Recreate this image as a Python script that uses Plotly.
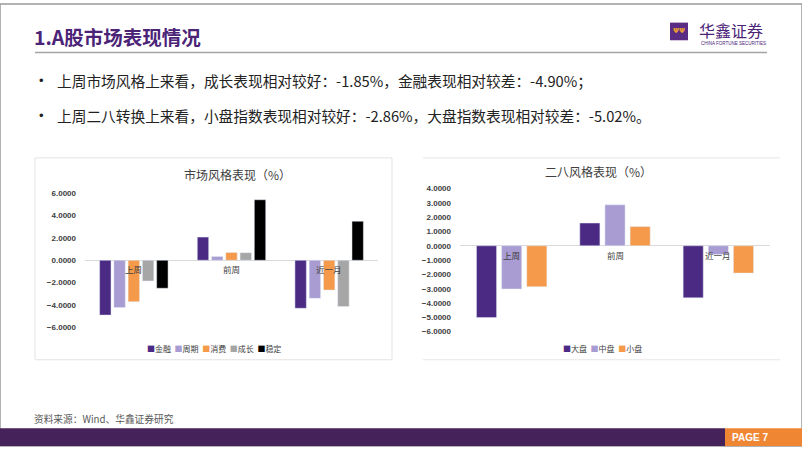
import plotly.graph_objects as go

W, H = 802, 451

# ---------------- data ----------------
categories = ["上周", "前周", "近一月"]

style_names = ["金融", "周期", "消费", "成长", "稳定"]
style_jinrong = [-4.90, 2.07, -4.29]
style_zhouqi = [-4.23, 0.33, -3.40]
style_xiaofei = [-3.70, 0.70, -2.66]
style_chengzhang = [-1.85, 0.68, -4.14]
style_wending = [-2.50, 5.41, 3.49]
style_values = [style_jinrong, style_zhouqi, style_xiaofei, style_chengzhang, style_wending]
style_colors = ["#4B2A84", "#A89CD2", "#F59A4A", "#A6A6A6", "#000000"]

size_names = ["大盘", "中盘", "小盘"]
size_dapan = [-5.02, 1.59, -3.64]
size_zhongpan = [-3.02, 2.86, -0.61]
size_xiaopan = [-2.86, 1.34, -1.91]
size_values = [size_dapan, size_zhongpan, size_xiaopan]
size_colors = ["#4B2A84", "#A89CD2", "#F59A4A"]

bullet_lines = [
    "上周市场风格上来看，成长表现相对较好：-1.85%，金融表现相对较差：-4.90%；",
    "上周二八转换上来看，小盘指数表现相对较好：-2.86%，大盘指数表现相对较差：-5.02%。",
]

CJK = "Noto Sans CJK SC"


def px_x(x):
    return x / W


def px_y(y):
    return 1 - y / H


fig = go.Figure()

for name, vals, col in zip(style_names, style_values, style_colors):
    fig.add_trace(go.Bar(x=categories, y=vals, name=name, marker_color=col,
                         xaxis="x", yaxis="y", showlegend=False))
for name, vals, col in zip(size_names, size_values, size_colors):
    fig.add_trace(go.Bar(x=categories, y=vals, name=name, marker_color=col,
                         xaxis="x2", yaxis="y2", showlegend=False))

tickfont = dict(family="Liberation Sans", size=8, color="#404040", weight="bold")
axis_common = dict(showgrid=False, showline=False, ticks="", tickformat=".4f",
                   zeroline=True, zerolinecolor="#D9D9D9", zerolinewidth=1,
                   tickfont=tickfont, ticklabelstandoff=8)

fig.update_layout(
    width=W, height=H, margin=dict(l=0, r=0, t=0, b=0),
    paper_bgcolor="white", plot_bgcolor="rgba(0,0,0,0)",
    barmode="group", bargap=0.27, bargroupgap=0.2,
    xaxis=dict(domain=[px_x(85), px_x(378)], showticklabels=False, showgrid=False,
               showline=False, zeroline=False, anchor="y"),
    yaxis=dict(domain=[px_y(330), px_y(193)], range=[-6, 6], dtick=2, anchor="x",
               **axis_common),
    xaxis2=dict(domain=[px_x(460), px_x(770)], showticklabels=False, showgrid=False,
                showline=False, zeroline=False, anchor="y2"),
    yaxis2=dict(domain=[px_y(334.3), px_y(188.3)], range=[-6, 4], dtick=1, anchor="x2",
                **axis_common),
    font=dict(family=CJK),
)

shapes = []
annotations = []

# slide frame
shapes.append(dict(type="rect", xref="paper", yref="paper", x0=0, x1=1, y0=0, y1=1,
                   line=dict(color="#9A9A9A", width=1.5), layer="below"))
# header underline
shapes.append(dict(type="line", xref="paper", yref="paper", x0=px_x(35), x1=px_x(767),
                   y0=px_y(49.5), y1=px_y(49.5), line=dict(color="#A3A3A8", width=1.5)))
# logo square
shapes.append(dict(type="rect", xref="paper", yref="paper", x0=px_x(670), x1=px_x(688),
                   y0=px_y(37), y1=px_y(19), fillcolor="#5B2C83", line=dict(width=0)))
# chart 1 frame
shapes.append(dict(type="rect", xref="paper", yref="paper", x0=px_x(35), x1=px_x(392),
                   y0=px_y(363), y1=px_y(157), line=dict(color="#E3E3E3", width=1),
                   layer="below"))
# chart 2 top/bottom lines
for yy in (157, 363):
    shapes.append(dict(type="line", xref="paper", yref="paper", x0=px_x(423), x1=px_x(780),
                       y0=px_y(yy), y1=px_y(yy), line=dict(color="#E6E6E6", width=1)))
# footer bar
shapes.append(dict(type="rect", xref="paper", yref="paper", x0=0, x1=px_x(725),
                   y0=0, y1=px_y(433), fillcolor="#46225A", line=dict(width=0)))
shapes.append(dict(type="rect", xref="paper", yref="paper", x0=px_x(725), x1=1,
                   y0=0, y1=px_y(433), fillcolor="#EF8633", line=dict(width=0)))

# header title
annotations.append(dict(text="<b>1.A股市场表现情况</b>", xref="paper", yref="paper",
                        x=px_x(32), y=px_y(33), xanchor="left", yanchor="middle",
                        showarrow=False, font=dict(family=CJK, size=19.5, color="#4B2377",
                                                   weight=900)))
# logo text
annotations.append(dict(text="华鑫证券", xref="paper", yref="paper",
                        x=px_x(697), y=px_y(27), xanchor="left", yanchor="middle",
                        showarrow=False, font=dict(family=CJK, size=16, color="#4B2377")))
annotations.append(dict(text="CHINA FORTUNE SECURITIES", xref="paper", yref="paper",
                        x=px_x(699), y=px_y(40), xanchor="left", yanchor="middle",
                        showarrow=False, font=dict(family="Liberation Sans", size=4.5, color="#4B2377")))
# logo glyph
annotations.append(dict(text="<b>ΨΨ</b>", xref="paper", yref="paper",
                        x=px_x(679), y=px_y(28), xanchor="center", yanchor="middle",
                        showarrow=False, font=dict(family="DejaVu Sans", size=7, color="#F0A030")))

# bullets
for i, line in enumerate(bullet_lines):
    yy = 78 + 36 * i
    annotations.append(dict(text="•", xref="paper", yref="paper", x=px_x(37), y=px_y(yy),
                            xanchor="left", yanchor="middle", showarrow=False,
                            font=dict(family="Liberation Sans", size=13, color="#222222")))
    annotations.append(dict(text=line, xref="paper", yref="paper", x=px_x(55), y=px_y(yy),
                            xanchor="left", yanchor="middle", showarrow=False,
                            font=dict(family=CJK, size=14.7, color="#222222")))

# chart titles
annotations.append(dict(text="市场风格表现（%）", xref="paper", yref="paper",
                        x=px_x(237), y=px_y(174), xanchor="center", yanchor="middle",
                        showarrow=False, font=dict(family=CJK, size=12, color="#404040")))
annotations.append(dict(text="二八风格表现（%）", xref="paper", yref="paper",
                        x=px_x(598), y=px_y(171), xanchor="center", yanchor="middle",
                        showarrow=False, font=dict(family=CJK, size=12, color="#404040")))

# category labels at the zero line
for xr, yr in (("x", "y"), ("x2", "y2")):
    for c in categories:
        annotations.append(dict(text=c, xref=xr, yref=yr, x=c, y=0, yanchor="top",
                                yshift=-1, showarrow=False,
                                font=dict(family=CJK, size=8.5, color="#404040")))

# compact legends


def legend_text(names, colors):
    parts = [f"<span style='color:{c}'>■</span>{n}" for n, c in zip(names, colors)]
    return "  ".join(parts)


annotations.append(dict(text=legend_text(style_names, style_colors), xref="paper", yref="paper",
                        x=px_x(214), y=px_y(352), xanchor="center", yanchor="middle",
                        showarrow=False, font=dict(family=CJK, size=8, color="#404040")))
annotations.append(dict(text=legend_text(size_names, size_colors), xref="paper", yref="paper",
                        x=px_x(602), y=px_y(352), xanchor="center", yanchor="middle",
                        showarrow=False, font=dict(family=CJK, size=8, color="#404040")))

# footer
annotations.append(dict(text="资料来源：Wind、华鑫证券研究", xref="paper", yref="paper",
                        x=px_x(32), y=px_y(423), xanchor="left", yanchor="middle",
                        showarrow=False, font=dict(family=CJK, size=9.7, color="#595959")))
annotations.append(dict(text="<b>PAGE 7</b>", xref="paper", yref="paper",
                        x=px_x(750), y=px_y(442), xanchor="center", yanchor="middle",
                        showarrow=False, font=dict(family="Liberation Sans Narrow, Liberation Sans", size=10, color="white")))

fig.update_layout(shapes=shapes, annotations=annotations)

fig.write_html("out.html", config={"displayModeBar": False},
               post_script="document.body.style.margin='0px';document.body.style.overflow='hidden';")
